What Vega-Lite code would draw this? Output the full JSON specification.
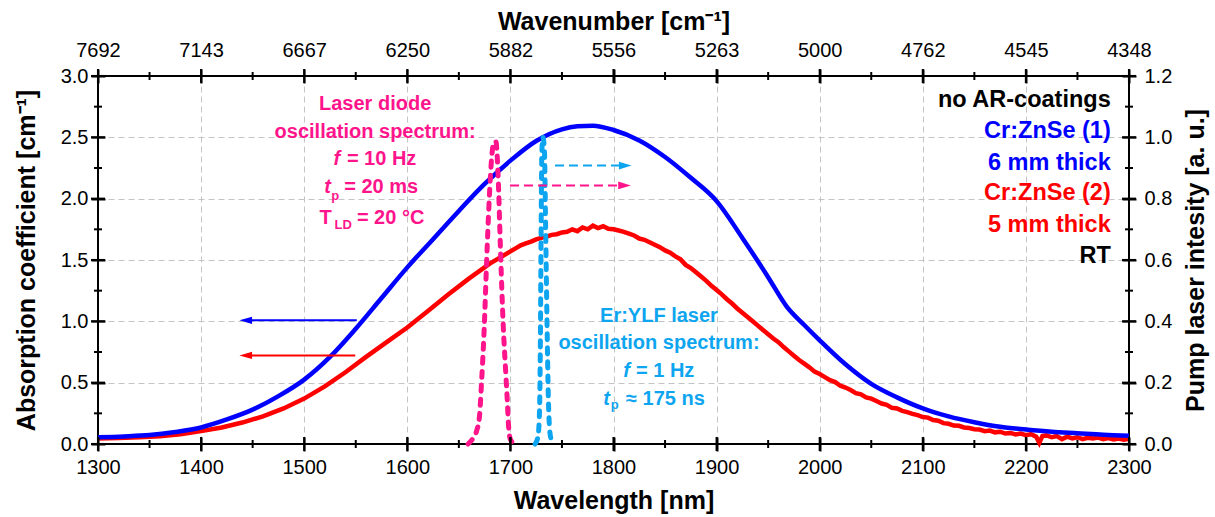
{
"$schema": "https://vega.github.io/schema/vega-lite/v6.json",
"width": 1031, "height": 368,
"autosize": {"type": "none"},
"padding": {"left": 98, "top": 76, "right": 86, "bottom": 73},
"background": "white",
"config": {
  "view": {"stroke": "#000", "strokeWidth": 2},
  "font": "Liberation Sans",
  "axis": {"ticks": true, "tickColor": "#000000", "tickWidth": 2, "labelColor": "#000", "titleColor": "#000", "labelFont": "Liberation Sans", "titleFont": "Liberation Sans", "labelFontSize": 20, "titleFontSize": 25, "titleFontWeight": "bold", "labelFlush": false, "labelOverlap": false, "domain": false, "grid": false}
},
"datasets": {
  "red": [
    {"w":1300,"a":0.045},{"w":1320,"a":0.049},{"w":1340,"a":0.055},{"w":1360,"a":0.064},{"w":1380,"a":0.08},{"w":1400,"a":0.105},{"w":1420,"a":0.135},{"w":1440,"a":0.175},{"w":1460,"a":0.225},{"w":1480,"a":0.29},{"w":1500,"a":0.37},{"w":1520,"a":0.47},{"w":1540,"a":0.585},{"w":1560,"a":0.71},{"w":1580,"a":0.83},{"w":1600,"a":0.95},{"w":1620,"a":1.085},{"w":1640,"a":1.22},{"w":1660,"a":1.35},{"w":1680,"a":1.47},{"w":1700,"a":1.57},
    {"w":1705,"a":1.595},{"w":1710,"a":1.62},{"w":1715,"a":1.635},{"w":1720,"a":1.65},{"w":1725,"a":1.668},{"w":1730,"a":1.68},{"w":1735,"a":1.69},{"w":1740,"a":1.705},{"w":1745,"a":1.71},{"w":1750,"a":1.725},{"w":1755,"a":1.73},{"w":1760,"a":1.75},{"w":1765,"a":1.735},{"w":1770,"a":1.765},{"w":1775,"a":1.75},{"w":1780,"a":1.78},{"w":1785,"a":1.76},{"w":1790,"a":1.775},{"w":1795,"a":1.755},{"w":1800,"a":1.75},{"w":1805,"a":1.74},{"w":1810,"a":1.73},{"w":1815,"a":1.715},{"w":1820,"a":1.7},{"w":1825,"a":1.675},{"w":1830,"a":1.665},{"w":1835,"a":1.645},{"w":1840,"a":1.625},{"w":1845,"a":1.605},{"w":1850,"a":1.578},{"w":1855,"a":1.56},{"w":1860,"a":1.53},{"w":1865,"a":1.505},{"w":1870,"a":1.46},{"w":1875,"a":1.435},{"w":1880,"a":1.4},{"w":1885,"a":1.365},{"w":1890,"a":1.33},{"w":1895,"a":1.29},{"w":1900,"a":1.255},{"w":1905,"a":1.22},{"w":1910,"a":1.18},{"w":1915,"a":1.145},{"w":1920,"a":1.105},{"w":1925,"a":1.07},{"w":1930,"a":1.035},{"w":1935,"a":1.0},{"w":1940,"a":0.965},{"w":1945,"a":0.93},{"w":1950,"a":0.895},{"w":1955,"a":0.86},{"w":1960,"a":0.83},{"w":1965,"a":0.79},{"w":1970,"a":0.755},{"w":1975,"a":0.72},{"w":1980,"a":0.685},{"w":1985,"a":0.655},{"w":1990,"a":0.625},{"w":1995,"a":0.59},{"w":2000,"a":0.57},{"w":2005,"a":0.545},{"w":2010,"a":0.52},{"w":2015,"a":0.505},{"w":2020,"a":0.475},{"w":2025,"a":0.46},{"w":2030,"a":0.44},{"w":2035,"a":0.415},{"w":2040,"a":0.405},{"w":2045,"a":0.38},{"w":2050,"a":0.37},{"w":2055,"a":0.35},{"w":2060,"a":0.33},{"w":2065,"a":0.32},{"w":2070,"a":0.295},{"w":2075,"a":0.29},{"w":2080,"a":0.27},{"w":2085,"a":0.26},{"w":2090,"a":0.245},{"w":2095,"a":0.235},{"w":2100,"a":0.22},{"w":2105,"a":0.215},{"w":2110,"a":0.195},{"w":2115,"a":0.19},{"w":2120,"a":0.17},{"w":2125,"a":0.165},{"w":2130,"a":0.15},{"w":2135,"a":0.148},{"w":2140,"a":0.135},{"w":2145,"a":0.13},{"w":2150,"a":0.12},{"w":2155,"a":0.118},{"w":2160,"a":0.105},{"w":2165,"a":0.11},{"w":2170,"a":0.095},{"w":2175,"a":0.1},{"w":2180,"a":0.085},{"w":2185,"a":0.09},{"w":2190,"a":0.078},{"w":2195,"a":0.085},{"w":2200,"a":0.072},{"w":2205,"a":0.08},{"w":2210,"a":0.06},{"w":2213,"a":0.01},{"w":2216,"a":0.065},{"w":2220,"a":0.07},{"w":2225,"a":0.055},{"w":2230,"a":0.065},{"w":2235,"a":0.04},{"w":2240,"a":0.06},{"w":2245,"a":0.045},{"w":2250,"a":0.055},{"w":2255,"a":0.04},{"w":2260,"a":0.05},{"w":2265,"a":0.045},{"w":2270,"a":0.052},{"w":2275,"a":0.04},{"w":2280,"a":0.048},{"w":2285,"a":0.038},{"w":2290,"a":0.045},{"w":2295,"a":0.035},{"w":2300,"a":0.042}
  ],
  "blue": [
    {"w":1300,"a":0.055},{"w":1325,"a":0.062},{"w":1350,"a":0.073},{"w":1375,"a":0.098},{"w":1400,"a":0.135},{"w":1425,"a":0.2},{"w":1450,"a":0.28},{"w":1475,"a":0.39},{"w":1500,"a":0.525},{"w":1525,"a":0.71},{"w":1550,"a":0.94},{"w":1575,"a":1.19},{"w":1600,"a":1.44},{"w":1625,"a":1.67},{"w":1650,"a":1.9},{"w":1675,"a":2.12},{"w":1700,"a":2.31},{"w":1725,"a":2.47},{"w":1750,"a":2.565},{"w":1765,"a":2.59},{"w":1780,"a":2.595},{"w":1800,"a":2.56},{"w":1825,"a":2.475},{"w":1850,"a":2.34},{"w":1875,"a":2.17},{"w":1900,"a":1.98},{"w":1925,"a":1.68},{"w":1950,"a":1.36},{"w":1968,"a":1.12},{"w":1985,"a":0.97},{"w":2000,"a":0.845},{"w":2025,"a":0.65},{"w":2050,"a":0.49},{"w":2075,"a":0.38},{"w":2100,"a":0.29},{"w":2125,"a":0.225},{"w":2150,"a":0.177},{"w":2175,"a":0.14},{"w":2200,"a":0.118},{"w":2225,"a":0.1},{"w":2250,"a":0.088},{"w":2275,"a":0.076},{"w":2300,"a":0.068}
  ],
  "ld": [
    {"w":1659,"p":0},{"w":1663,"p":0.015},{"w":1667,"p":0.04},{"w":1670,"p":0.09},{"w":1672,"p":0.2},{"w":1674.5,"p":0.37},{"w":1677,"p":0.6},{"w":1679.5,"p":0.8},{"w":1682,"p":0.94},{"w":1684,"p":0.985},{"w":1686,"p":0.985},{"w":1688,"p":0.88},{"w":1690.5,"p":0.62},{"w":1693,"p":0.39},{"w":1695.7,"p":0.22},{"w":1697,"p":0.14},{"w":1698.2,"p":0.06},{"w":1700,"p":0.015},{"w":1704.5,"p":0}
  ],
  "er": [
    {"w":1724,"p":0},{"w":1726.5,"p":0.02},{"w":1728,"p":0.08},{"w":1729,"p":0.3},{"w":1729.8,"p":0.7},{"w":1730.5,"p":0.95},{"w":1731.5,"p":1.0},{"w":1733,"p":0.96},{"w":1734.2,"p":0.7},{"w":1735.5,"p":0.4},{"w":1736.8,"p":0.15},{"w":1738,"p":0.05},{"w":1739.5,"p":0.015},{"w":1741.5,"p":0}
  ],
  "arrows": [
    {"id":"blue","kind":"solid","w":1551,"a":1.008},{"id":"blue","kind":"solid","w":1446,"a":1.008},
    {"id":"red","kind":"solid","w":1549.5,"a":0.722},{"id":"red","kind":"solid","w":1446,"a":0.722},
    {"id":"ld","kind":"dashed","w":1699.6,"a":2.108},{"id":"ld","kind":"dashed","w":1806,"a":2.108},
    {"id":"er","kind":"dashed","w":1743.3,"a":2.27},{"id":"er","kind":"dashed","w":1806,"a":2.27}
  ],
  "heads": [
    {"id":"blue","dir":"left","w":1443.3,"a":1.008},
    {"id":"red","dir":"left","w":1443.3,"a":0.722},
    {"id":"ld","dir":"right","w":1810.7,"a":2.108},
    {"id":"er","dir":"right","w":1811.4,"a":2.27}
  ],
  "xt": [
    {"w":1300,"a":0,"k":"major"},{"w":1400,"a":0,"k":"major"},{"w":1500,"a":0,"k":"major"},{"w":1600,"a":0,"k":"major"},{"w":1700,"a":0,"k":"major"},{"w":1800,"a":0,"k":"major"},{"w":1900,"a":0,"k":"major"},{"w":2000,"a":0,"k":"major"},{"w":2100,"a":0,"k":"major"},{"w":2200,"a":0,"k":"major"},{"w":2300,"a":0,"k":"major"},
    {"w":1300,"a":3,"k":"major"},{"w":1400,"a":3,"k":"major"},{"w":1500,"a":3,"k":"major"},{"w":1600,"a":3,"k":"major"},{"w":1700,"a":3,"k":"major"},{"w":1800,"a":3,"k":"major"},{"w":1900,"a":3,"k":"major"},{"w":2000,"a":3,"k":"major"},{"w":2100,"a":3,"k":"major"},{"w":2200,"a":3,"k":"major"},{"w":2300,"a":3,"k":"major"},
    {"w":1350,"a":0,"k":"minor"},{"w":1450,"a":0,"k":"minor"},{"w":1550,"a":0,"k":"minor"},{"w":1650,"a":0,"k":"minor"},{"w":1750,"a":0,"k":"minor"},{"w":1850,"a":0,"k":"minor"},{"w":1950,"a":0,"k":"minor"},{"w":2050,"a":0,"k":"minor"},{"w":2150,"a":0,"k":"minor"},{"w":2250,"a":0,"k":"minor"},
    {"w":1350,"a":3,"k":"minor"},{"w":1450,"a":3,"k":"minor"},{"w":1550,"a":3,"k":"minor"},{"w":1650,"a":3,"k":"minor"},{"w":1750,"a":3,"k":"minor"},{"w":1850,"a":3,"k":"minor"},{"w":1950,"a":3,"k":"minor"},{"w":2050,"a":3,"k":"minor"},{"w":2150,"a":3,"k":"minor"},{"w":2250,"a":3,"k":"minor"}
  ],
  "yt": [
    {"w":1300,"a":0,"k":"major"},{"w":1300,"a":0.5,"k":"major"},{"w":1300,"a":1,"k":"major"},{"w":1300,"a":1.5,"k":"major"},{"w":1300,"a":2,"k":"major"},{"w":1300,"a":2.5,"k":"major"},{"w":1300,"a":3,"k":"major"},
    {"w":1300,"a":0.25,"k":"minor"},{"w":1300,"a":0.75,"k":"minor"},{"w":1300,"a":1.25,"k":"minor"},{"w":1300,"a":1.75,"k":"minor"},{"w":1300,"a":2.25,"k":"minor"},{"w":1300,"a":2.75,"k":"minor"}
  ],
  "pt": [
    {"w":2300,"p":0,"k":"major"},{"w":2300,"p":0.2,"k":"major"},{"w":2300,"p":0.4,"k":"major"},{"w":2300,"p":0.6,"k":"major"},{"w":2300,"p":0.8,"k":"major"},{"w":2300,"p":1.0,"k":"major"},{"w":2300,"p":1.2,"k":"major"},
    {"w":2300,"p":0.1,"k":"minor"},{"w":2300,"p":0.3,"k":"minor"},{"w":2300,"p":0.5,"k":"minor"},{"w":2300,"p":0.7,"k":"minor"},{"w":2300,"p":0.9,"k":"minor"},{"w":2300,"p":1.1,"k":"minor"}
  ],
  "texts": [
    {"c":"ld","s":"center","t":"Laser diode","w":1568.8,"a":2.726},
    {"c":"ld","s":"center","t":"oscillation spectrum:","w":1568.8,"a":2.497},
    {"c":"ld","s":"italic","t":"f","w":1528.4,"a":2.271},
    {"c":"ld","s":"left","t":"= 10 Hz","w":1541.4,"a":2.271},
    {"c":"ld","s":"italic","t":"t","w":1519.4,"a":2.045},
    {"c":"ld","s":"sub","t":"p","w":1526.2,"a":1.991},
    {"c":"ld","s":"left","t":"= 20 ms","w":1538.8,"a":2.045},
    {"c":"ld","s":"left","t":"T","w":1514.8,"a":1.795},
    {"c":"ld","s":"sub","t":"LD","w":1529.4,"a":1.755},
    {"c":"ld","s":"left","t":"= 20 °C","w":1551.1,"a":1.795},
    {"c":"er","s":"center","t":"Er:YLF laser","w":1844.1,"a":0.998},
    {"c":"er","s":"center","t":"oscillation spectrum:","w":1844.1,"a":0.775},
    {"c":"er","s":"italic","t":"f","w":1809.5,"a":0.544},
    {"c":"er","s":"left","t":"= 1 Hz","w":1821.8,"a":0.544},
    {"c":"er","s":"italic","t":"t","w":1790.1,"a":0.321},
    {"c":"er","s":"sub","t":"p","w":1797.3,"a":0.286},
    {"c":"er","s":"left","t":"≈ 175 ns","w":1812.1,"a":0.321},
    {"c":"black","s":"legend","t":"no AR-coatings","w":2282.3,"a":2.747},
    {"c":"blue","s":"legend","t":"Cr:ZnSe (1)","w":2282.3,"a":2.494},
    {"c":"blue","s":"legend","t":"6 mm thick","w":2282.3,"a":2.236},
    {"c":"red","s":"legend","t":"Cr:ZnSe (2)","w":2282.3,"a":1.986},
    {"c":"red","s":"legend","t":"5 mm thick","w":2282.3,"a":1.727},
    {"c":"black","s":"legend","t":"RT","w":2282.3,"a":1.474}
  ]
},
"resolve": {"scale": {"y": "independent"}, "axis": {"x": "independent", "y": "independent"}},
"layer": [
  {
    "data": {"name": "red"},
    "mark": {"type": "line", "color": "#ff0000", "strokeWidth": 4.5},
    "encoding": {
      "x": {"field": "w", "type": "quantitative", "scale": {"domain": [1300, 2300]},
            "axis": {"orient": "bottom", "values": [1400,1500,1600,1700,1800,1900,2000,2100,2200], "grid": true, "gridColor": "#c4c4c4", "gridDash": [6,4], "gridWidth": 1, "ticks": false, "labels": false, "title": null}},
      "y": {"field": "a", "type": "quantitative", "scale": {"domain": [0, 3]},
            "axis": {"orient": "left", "values": [0.5,1,1.5,2,2.5], "grid": true, "gridColor": "#c4c4c4", "gridDash": [6,4], "gridWidth": 1, "ticks": false, "labels": false, "title": null}}
    }
  },
  {
    "data": {"name": "blue"},
    "mark": {"type": "line", "color": "#0000ff", "strokeWidth": 4.5, "interpolate": "monotone"},
    "encoding": {
      "x": {"field": "w", "type": "quantitative", "scale": {"domain": [1300, 2300]},
            "axis": {"orient": "bottom", "values": [1300,1400,1500,1600,1700,1800,1900,2000,2100,2200,2300], "format": "d", "offset": -7, "tickSize": 14, "labelPadding": 6, "title": "Wavelength [nm]", "titlePadding": 11, "zindex": 1}},
      "y": {"field": "a", "type": "quantitative", "scale": {"domain": [0, 3]},
            "axis": {"orient": "left", "values": [0,0.5,1,1.5,2,2.5,3], "format": ".1f", "offset": -7, "tickSize": 14, "labelPadding": 3, "title": "Absorption coefficient [cm⁻¹]", "titlePadding": 21, "zindex": 1}}
    }
  },
  {
    "data": {"name": "ld"},
    "mark": {"type": "line", "color": "#ff148c", "strokeWidth": 5, "strokeDash": [6, 8], "strokeCap": "round", "interpolate": "monotone"},
    "encoding": {
      "x": {"field": "w", "type": "quantitative", "scale": {"domain": [1300, 2300]},
            "axis": {"orient": "top", "values": [1300,1400,1500,1600,1700,1800,1900,2000,2100,2200,2300], "offset": -7, "tickSize": 14, "labelPadding": 9, "labelExpr": "format(10000000/datum.value, '.0f')", "title": "Wavenumber [cm⁻¹]", "titlePadding": 6, "zindex": 1}},
      "y": {"field": "p", "type": "quantitative", "scale": {"domain": [0, 1.2]},
            "axis": {"orient": "right", "values": [0,0.2,0.4,0.6,0.8,1,1.2], "format": ".1f", "offset": -7, "tickSize": 14, "labelPadding": 8, "title": "Pump laser intesity [a. u.]", "titleAngle": 270, "titleBaseline": "top", "titlePadding": 12, "zindex": 1}}
    }
  },
  {
    "data": {"name": "er"},
    "mark": {"type": "line", "color": "#0ea5f0", "strokeWidth": 5, "strokeDash": [6, 8], "strokeCap": "round", "interpolate": "monotone"},
    "encoding": {
      "x": {"field": "w", "type": "quantitative", "scale": {"domain": [1300, 2300]}, "axis": null},
      "y": {"field": "p", "type": "quantitative", "scale": {"domain": [0, 1.2]}, "axis": null}
    }
  },
  {
    "data": {"name": "arrows"},
    "transform": [{"filter": "datum.kind === 'solid'"}],
    "mark": {"type": "line", "strokeWidth": 2},
    "encoding": {
      "x": {"field": "w", "type": "quantitative", "scale": {"domain": [1300, 2300]}, "axis": null},
      "y": {"field": "a", "type": "quantitative", "scale": {"domain": [0, 3]}, "axis": null},
      "detail": {"field": "id"},
      "color": {"field": "id", "type": "nominal", "legend": null, "scale": {"domain": ["ld","er","blue","red","black"], "range": ["#ff148c","#0ea5f0","#0000ff","#ff0000","#000000"]}}
    }
  },
  {
    "data": {"name": "arrows"},
    "transform": [{"filter": "datum.kind === 'dashed'"}],
    "mark": {"type": "line", "strokeWidth": 2, "strokeDash": [9, 5]},
    "encoding": {
      "x": {"field": "w", "type": "quantitative", "scale": {"domain": [1300, 2300]}, "axis": null},
      "y": {"field": "a", "type": "quantitative", "scale": {"domain": [0, 3]}, "axis": null},
      "detail": {"field": "id"},
      "color": {"field": "id", "type": "nominal", "legend": null, "scale": {"domain": ["ld","er","blue","red","black"], "range": ["#ff148c","#0ea5f0","#0000ff","#ff0000","#000000"]}}
    }
  },
  {
    "data": {"name": "heads"},
    "mark": {"type": "point", "filled": true, "size": 160, "opacity": 1, "strokeWidth": 0},
    "encoding": {
      "x": {"field": "w", "type": "quantitative", "scale": {"domain": [1300, 2300]}, "axis": null},
      "y": {"field": "a", "type": "quantitative", "scale": {"domain": [0, 3]}, "axis": null},
      "shape": {"field": "dir", "type": "nominal", "legend": null, "scale": {"domain": ["left","right"], "range": ["M -1 0 L 1 -0.58 L 1 0.58 Z", "M 1 0 L -1 -0.62 L -1 0.62 Z"]}},
      "color": {"field": "id", "type": "nominal", "legend": null, "scale": {"domain": ["ld","er","blue","red","black"], "range": ["#ff148c","#0ea5f0","#0000ff","#ff0000","#000000"]}}
    }
  },
  {
    "data": {"name": "xt"},
    "transform": [{"filter": "datum.k === 'major'"}],
    "mark": {"type": "point", "shape": "M -0.15 -1 L 0.15 -1 L 0.15 1 L -0.15 1 Z", "size": 196, "filled": true, "strokeWidth": 0, "color": "#000000", "opacity": 1},
    "encoding": {
      "x": {"field": "w", "type": "quantitative", "scale": {"domain": [1300, 2300]}, "axis": null},
      "y": {"field": "a", "type": "quantitative", "scale": {"domain": [0, 3]}, "axis": null}
    }
  },
  {
    "data": {"name": "xt"},
    "transform": [{"filter": "datum.k === 'minor'"}],
    "mark": {"type": "point", "shape": "M -0.25 -1 L 0.25 -1 L 0.25 1 L -0.25 1 Z", "size": 64, "filled": true, "strokeWidth": 0, "color": "#000000", "opacity": 1},
    "encoding": {
      "x": {"field": "w", "type": "quantitative", "scale": {"domain": [1300, 2300]}, "axis": null},
      "y": {"field": "a", "type": "quantitative", "scale": {"domain": [0, 3]}, "axis": null}
    }
  },
  {
    "data": {"name": "yt"},
    "transform": [{"filter": "datum.k === 'major'"}],
    "mark": {"type": "point", "shape": "M -1 -0.15 L 1 -0.15 L 1 0.15 L -1 0.15 Z", "size": 196, "filled": true, "strokeWidth": 0, "color": "#000000", "opacity": 1},
    "encoding": {
      "x": {"field": "w", "type": "quantitative", "scale": {"domain": [1300, 2300]}, "axis": null},
      "y": {"field": "a", "type": "quantitative", "scale": {"domain": [0, 3]}, "axis": null}
    }
  },
  {
    "data": {"name": "yt"},
    "transform": [{"filter": "datum.k === 'minor'"}],
    "mark": {"type": "point", "shape": "M -1 -0.25 L 1 -0.25 L 1 0.25 L -1 0.25 Z", "size": 64, "filled": true, "strokeWidth": 0, "color": "#000000", "opacity": 1},
    "encoding": {
      "x": {"field": "w", "type": "quantitative", "scale": {"domain": [1300, 2300]}, "axis": null},
      "y": {"field": "a", "type": "quantitative", "scale": {"domain": [0, 3]}, "axis": null}
    }
  },
  {
    "data": {"name": "pt"},
    "transform": [{"filter": "datum.k === 'major'"}],
    "mark": {"type": "point", "shape": "M -1 -0.15 L 1 -0.15 L 1 0.15 L -1 0.15 Z", "size": 196, "filled": true, "strokeWidth": 0, "color": "#000000", "opacity": 1},
    "encoding": {
      "x": {"field": "w", "type": "quantitative", "scale": {"domain": [1300, 2300]}, "axis": null},
      "y": {"field": "p", "type": "quantitative", "scale": {"domain": [0, 1.2]}, "axis": null}
    }
  },
  {
    "data": {"name": "pt"},
    "transform": [{"filter": "datum.k === 'minor'"}],
    "mark": {"type": "point", "shape": "M -1 -0.25 L 1 -0.25 L 1 0.25 L -1 0.25 Z", "size": 64, "filled": true, "strokeWidth": 0, "color": "#000000", "opacity": 1},
    "encoding": {
      "x": {"field": "w", "type": "quantitative", "scale": {"domain": [1300, 2300]}, "axis": null},
      "y": {"field": "p", "type": "quantitative", "scale": {"domain": [0, 1.2]}, "axis": null}
    }
  },
  {
    "data": {"name": "texts"},
    "transform": [{"filter": "datum.s === 'center'"}],
    "mark": {"type": "text", "align": "center", "baseline": "alphabetic", "fontSize": 20, "fontWeight": "bold", "font": "Liberation Sans"},
    "encoding": {
      "x": {"field": "w", "type": "quantitative", "scale": {"domain": [1300, 2300]}, "axis": null},
      "y": {"field": "a", "type": "quantitative", "scale": {"domain": [0, 3]}, "axis": null},
      "text": {"field": "t"},
      "color": {"field": "c", "type": "nominal", "legend": null, "scale": {"domain": ["ld","er","blue","red","black"], "range": ["#ff148c","#0ea5f0","#0000ff","#ff0000","#000000"]}}
    }
  },
  {
    "data": {"name": "texts"},
    "transform": [{"filter": "datum.s === 'left'"}],
    "mark": {"type": "text", "align": "left", "baseline": "alphabetic", "fontSize": 20, "fontWeight": "bold", "font": "Liberation Sans"},
    "encoding": {
      "x": {"field": "w", "type": "quantitative", "scale": {"domain": [1300, 2300]}, "axis": null},
      "y": {"field": "a", "type": "quantitative", "scale": {"domain": [0, 3]}, "axis": null},
      "text": {"field": "t"},
      "color": {"field": "c", "type": "nominal", "legend": null, "scale": {"domain": ["ld","er","blue","red","black"], "range": ["#ff148c","#0ea5f0","#0000ff","#ff0000","#000000"]}}
    }
  },
  {
    "data": {"name": "texts"},
    "transform": [{"filter": "datum.s === 'italic'"}],
    "mark": {"type": "text", "align": "left", "baseline": "alphabetic", "fontSize": 20, "fontWeight": "bold", "fontStyle": "italic", "font": "Liberation Sans"},
    "encoding": {
      "x": {"field": "w", "type": "quantitative", "scale": {"domain": [1300, 2300]}, "axis": null},
      "y": {"field": "a", "type": "quantitative", "scale": {"domain": [0, 3]}, "axis": null},
      "text": {"field": "t"},
      "color": {"field": "c", "type": "nominal", "legend": null, "scale": {"domain": ["ld","er","blue","red","black"], "range": ["#ff148c","#0ea5f0","#0000ff","#ff0000","#000000"]}}
    }
  },
  {
    "data": {"name": "texts"},
    "transform": [{"filter": "datum.s === 'sub'"}],
    "mark": {"type": "text", "align": "left", "baseline": "alphabetic", "fontSize": 13, "fontWeight": "bold", "font": "Liberation Sans"},
    "encoding": {
      "x": {"field": "w", "type": "quantitative", "scale": {"domain": [1300, 2300]}, "axis": null},
      "y": {"field": "a", "type": "quantitative", "scale": {"domain": [0, 3]}, "axis": null},
      "text": {"field": "t"},
      "color": {"field": "c", "type": "nominal", "legend": null, "scale": {"domain": ["ld","er","blue","red","black"], "range": ["#ff148c","#0ea5f0","#0000ff","#ff0000","#000000"]}}
    }
  },
  {
    "data": {"name": "texts"},
    "transform": [{"filter": "datum.s === 'legend'"}],
    "mark": {"type": "text", "align": "right", "baseline": "alphabetic", "fontSize": 23.5, "fontWeight": "bold", "font": "Liberation Sans"},
    "encoding": {
      "x": {"field": "w", "type": "quantitative", "scale": {"domain": [1300, 2300]}, "axis": null},
      "y": {"field": "a", "type": "quantitative", "scale": {"domain": [0, 3]}, "axis": null},
      "text": {"field": "t"},
      "color": {"field": "c", "type": "nominal", "legend": null, "scale": {"domain": ["ld","er","blue","red","black"], "range": ["#ff148c","#0ea5f0","#0000ff","#ff0000","#000000"]}}
    }
  }
]
}
